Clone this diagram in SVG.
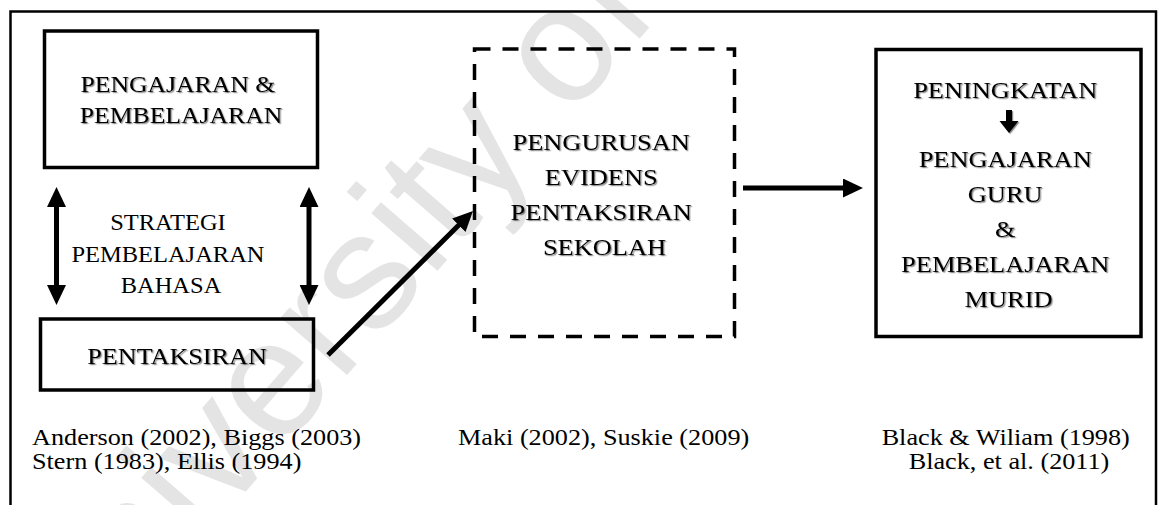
<svg xmlns="http://www.w3.org/2000/svg" width="1160" height="505" viewBox="0 0 1160 505">
  <style>
    .frame { fill: none; stroke: #000; stroke-width: 2.5; }
    .box { fill: none; stroke: #000; stroke-width: 3.5; }
    .dash { fill: none; stroke: #000; stroke-width: 3.5; stroke-dasharray: 16 12; }
    .conn { fill: none; stroke: #000; stroke-width: 5; }
    .t { font-family: "Liberation Serif", "Times New Roman", serif; font-size: 24px; text-anchor: middle; fill: #000; }
    .sh { filter: url(#soft-shadow); }
    .cite { font-family: "Liberation Serif", "Times New Roman", serif; font-size: 23px; fill: #000; }
    .mark { font-family: "Liberation Sans", Arial, sans-serif; font-size: 166px; fill: #e4e4e4; }
  </style>
  <defs>
    <filter id="soft-shadow" x="-5%" y="-20%" width="115%" height="150%">
      <feDropShadow dx="1.2" dy="1.2" stdDeviation="0.7" flood-color="#000" flood-opacity="0.45"/>
    </filter>
    <marker id="head" viewBox="0 0 20 19" refX="10" refY="9.5" markerWidth="20" markerHeight="19"
            markerUnits="userSpaceOnUse" orient="auto-start-reverse">
      <path d="M0,0 L20,9.5 L0,19 Z" fill="#000"/>
    </marker>
  </defs>

  <rect width="1160" height="505" fill="#fff"/>

  <!-- faint background watermark -->
  <text class="mark" transform="translate(61,704) rotate(-49)">University of Malaya</text>

  <!-- outer frame (open at the bottom) -->
  <path class="frame" d="M10.5,505 V11.5 H1156 V505"/>

  <g id="node-pengajaran">
    <rect class="box" x="44.5" y="31" width="273" height="136.5"/>
    <text class="t sh" transform="matrix(1.07 0 0 1 181 0)">
      <tspan x="0" y="92">PENGAJARAN &amp;</tspan>
      <tspan x="0" y="123">PEMBELAJARAN</tspan>
    </text>
  </g>

  <g id="label-strategi">
    <text class="t" transform="matrix(1.02 0 0 1 171 0)">
      <tspan x="0" y="230">STRATEGI</tspan>
      <tspan x="0" y="262">PEMBELAJARAN</tspan>
      <tspan x="0" y="293">BAHASA</tspan>
    </text>
  </g>

  <g id="node-pentaksiran">
    <rect class="box" x="40.5" y="319" width="273" height="71"/>
    <text class="t sh" transform="matrix(1.09 0 0 1 177 0)" x="0" y="364">PENTAKSIRAN</text>
  </g>

  <g id="node-pengurusan">
    <rect class="dash" x="474.5" y="49" width="260" height="287.5"/>
    <text class="t sh" transform="matrix(1.1 0 0 1 604.5 0)">
      <tspan x="0" y="150">PENGURUSAN</tspan>
      <tspan x="0" y="185">EVIDENS</tspan>
      <tspan x="0" y="220">PENTAKSIRAN</tspan>
      <tspan x="0" y="255">SEKOLAH</tspan>
    </text>
  </g>

  <g id="node-peningkatan">
    <rect class="box" x="876" y="49.5" width="265" height="287"/>
    <text class="t sh" transform="matrix(1.1 0 0 1 1008.5 0)">
      <tspan x="0" y="98">PENINGKATAN</tspan>
      <tspan x="0" y="167">PENGAJARAN</tspan>
      <tspan x="0" y="202">GURU</tspan>
      <tspan x="0" y="237">&amp;</tspan>
      <tspan x="0" y="272">PEMBELAJARAN</tspan>
      <tspan x="0" y="307">MURID</tspan>
    </text>
    <path class="sh" d="M1006,110 H1012 V121 H1018.5 L1009,133 L999.5,121 H1006 Z" fill="#000"/>
  </g>

  <g id="connectors">
    <line class="conn" x1="56.5" y1="197" x2="56.5" y2="295" marker-start="url(#head)" marker-end="url(#head)"/>
    <line class="conn" x1="309" y1="197" x2="309" y2="295" marker-start="url(#head)" marker-end="url(#head)"/>
    <line class="conn" x1="328" y1="355" x2="465.9" y2="218.1" marker-end="url(#head)"/>
    <line class="conn" x1="743" y1="188" x2="853" y2="188" marker-end="url(#head)"/>
  </g>

  <g id="references">
    <text class="cite" transform="matrix(1.14 0 0 1 32 0)">
      <tspan x="0" y="445">Anderson (2002), Biggs (2003)</tspan>
      <tspan x="0" y="469">Stern (1983), Ellis (1994)</tspan>
    </text>
    <text class="cite" transform="matrix(1.14 0 0 1 458 0)" x="0" y="445">Maki (2002), Suskie (2009)</text>
    <text class="cite" transform="matrix(1.14 0 0 1 1009 0)" text-anchor="middle">
      <tspan x="0" y="445">Black &amp; Wiliam (1998)</tspan>
      <tspan x="0" y="469">Black, et al. (2011)</tspan>
    </text>
  </g>
</svg>
